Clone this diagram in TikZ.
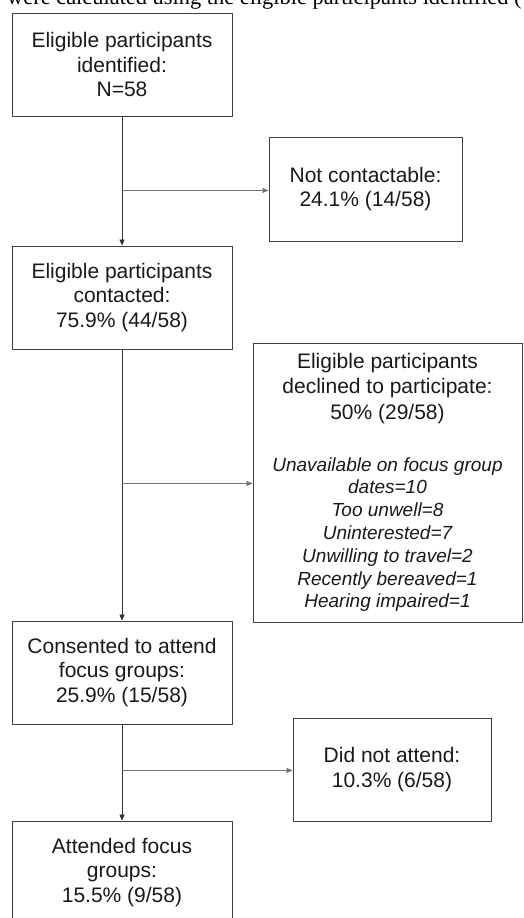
\documentclass[tikz,border=0pt]{standalone}
\usepackage{fontspec}
\setmainfont{Liberation Sans}
\newfontfamily\toptextfont{Liberation Serif}
\usetikzlibrary{arrows.meta}
\begin{document}
\begin{tikzpicture}[x=1pt,y=-1pt,
  frame/.style={draw=black!75, line width=0.9pt, inner sep=0pt, text=black!90},
  flowbox/.style={frame, align=center, font=\fontsize{21}{24.5}\selectfont},
  leftbox/.style={flowbox, minimum width=220pt, minimum height=103pt},
  flowarrow/.style={draw=black!80, line width=0.7pt, -{Triangle[length=6pt,width=5pt]}},
  branch/.style={flowarrow, draw=black!55}]
\useasboundingbox (0,0) rectangle (523,918);
\clip (0,0) rectangle (523,918);

\node[anchor=base west, inner sep=0pt, font=\toptextfont\fontsize{22.4}{26}\selectfont] (caption) at (7,5) {were calculated using the eligible participants identified (};

\node[leftbox] (identified) at (122,64.5) {Eligible participants\\identified:\\N=58};
\node[flowbox, minimum width=193pt, minimum height=104pt] (notcontact) at (365.5,189) {Not contactable:\\24.1\% (14/58)};
\node[leftbox] (contacted) at (122,297.5) {Eligible participants\\contacted:\\75.9\% (44/58)};
\node[frame, minimum width=269pt, minimum height=279pt] (declined) at (387.5,482.5) {%
\begin{minipage}{262pt}\centering
\fontsize{21}{25.5}\selectfont Eligible participants\\declined to participate:\\50\% (29/58)\par
\vspace{29pt}
\itshape\fontsize{19}{22.8}\selectfont Unavailable on focus group\\dates=10\\Too unwell=8\\Uninterested=7\\Unwilling to travel=2\\Recently bereaved=1\\Hearing impaired=1\par
\end{minipage}};
\node[leftbox] (consented) at (122,672.5) {Consented to attend\\focus groups:\\25.9\% (15/58)};
\node[flowbox, minimum width=198pt, minimum height=103pt] (noattend) at (392,769.5) {Did not attend:\\10.3\% (6/58)};
\node[leftbox] (attended) at (122,872.5) {Attended focus\\groups:\\15.5\% (9/58)};

\draw[flowarrow] (identified) -- (contacted);
\draw[flowarrow] (contacted) -- (consented);
\draw[flowarrow] (consented) -- (attended);

\path (identified.south) ++(0,74) coordinate (j1);
\path (contacted.south) ++(0,134) coordinate (j2);
\path (consented.south) ++(0,46) coordinate (j3);
\draw[branch] (j1) -- (j1 -| notcontact.west);
\draw[branch] (j2) -- (j2 -| declined.west);
\draw[branch] (j3) -- (j3 -| noattend.west);
\end{tikzpicture}
\end{document}
